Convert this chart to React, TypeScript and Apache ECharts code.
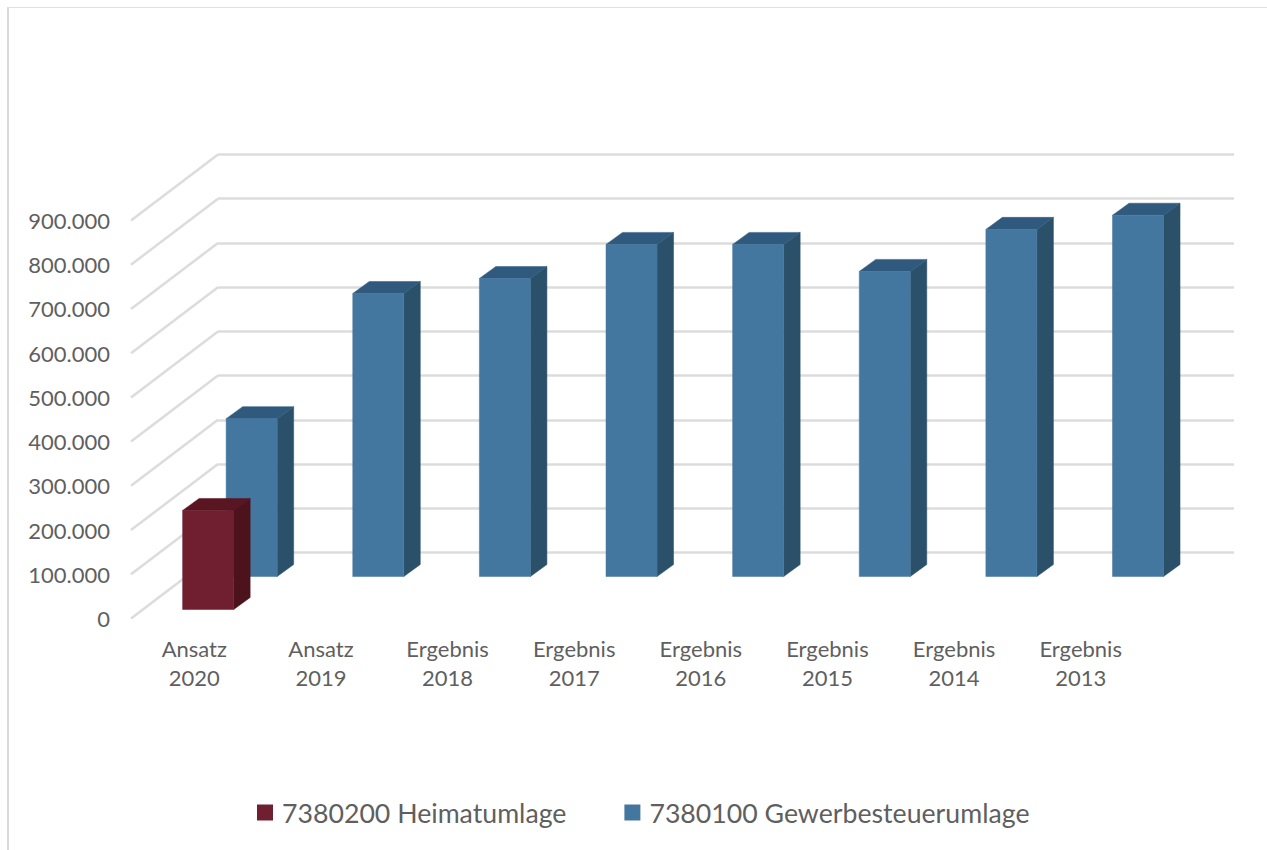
import React, { useEffect, useRef } from "react";
import * as echarts from "echarts";

const categories = ["Ansatz\n2020", "Ansatz\n2019", "Ergebnis\n2018", "Ergebnis\n2017", "Ergebnis\n2016", "Ergebnis\n2015", "Ergebnis\n2014", "Ergebnis\n2013"];
const heimatumlage = [224000, null, null, null, null, null, null, null];
const gewerbesteuerumlage = [357000, 640000, 674000, 751000, 751000, 690000, 785000, 817000];
const tickValues = [0, 100000, 200000, 300000, 400000, 500000, 600000, 700000, 800000, 900000];

const FONT = "Lato, Carlito, sans-serif";
const TEXT = "#5f5f5f";
const DEPTH_X = 87;
const DEPTH_Y = -66;
const GRID = "#dcdcdc";
const BAR_SHIFT_X = 2;
const BAR_DEPTH_X = 16.5;

function formatTick(v: number) {
  return String(v).replace(/\B(?=(\d{3})+$)/g, ".");
}

function bar3d(front: string, top: string, side: string, d0: number, d1: number) {
  return (params: any, api: any) => {
    const cat = api.value(0);
    const val = api.value(1);
    const w = api.size([1, 0])[0] * 0.403;
    const baseC = api.coord([cat, 0]);
    const topC = api.coord([cat, val]);
    const x0 = baseC[0] + d0 * DEPTH_X + BAR_SHIFT_X - w / 2;
    const x1 = x0 + w;
    const yb = baseC[1] + d0 * DEPTH_Y;
    const yt = topC[1] + d0 * DEPTH_Y;
    const dx = BAR_DEPTH_X;
    const dy = (d1 - d0) * DEPTH_Y;
    const poly = (points: number[][], fill: string) => ({
      type: "polygon",
      shape: { points },
      style: { fill, stroke: fill, lineWidth: 0.5 },
    });
    return {
      type: "group",
      children: [
        poly([[x1, yb], [x1 + dx, yb + dy], [x1 + dx, yt + dy], [x1, yt]], side),
        poly([[x0, yt], [x1, yt], [x1 + dx, yt + dy], [x0 + dx, yt + dy]], top),
        poly([[x0, yb], [x1, yb], [x1, yt], [x0, yt]], front),
      ],
    };
  };
}

export default function App() {
  const ref = useRef<HTMLDivElement>(null);
  useEffect(() => {
    document.body.style.margin = "0";
    const chart = echarts.init(ref.current!, null, { renderer: "svg" });
    const frontGrid = { left: 131, top: 220.5, width: 1013, height: 398 };
    chart.setOption({
      animation: false,
      backgroundColor: "#ffffff",
      textStyle: { fontFamily: FONT },
      graphic: [
        { type: "line", shape: { x1: 8, y1: 7, x2: 8, y2: 850 }, style: { stroke: "#d9d9d9", lineWidth: 2 }, silent: true },
        { type: "line", shape: { x1: 7, y1: 7.5, x2: 1267, y2: 7.5 }, style: { stroke: "#e0e0e0", lineWidth: 1 }, silent: true },
      ],
      grid: [
        frontGrid,
        { left: 218, top: 154.5, width: 1016, height: 398 },
      ],
      xAxis: [
        {
          type: "category", gridIndex: 0, data: categories,
          axisLine: { show: false }, axisTick: { show: false },
          axisLabel: { color: TEXT, fontSize: 22, fontFamily: FONT, lineHeight: 29, margin: 15, interval: 0 },
        },
        { type: "category", gridIndex: 1, data: categories, show: false },
      ],
      yAxis: [
        {
          type: "value", gridIndex: 0, min: 0, max: 900000, interval: 100000,
          axisLine: { show: false }, axisTick: { show: false }, splitLine: { show: false },
          axisLabel: { color: TEXT, fontSize: 22, fontFamily: FONT, margin: 21, formatter: formatTick },
        },
        {
          type: "value", gridIndex: 1, min: 0, max: 900000, interval: 100000,
          axisLine: { show: false }, axisTick: { show: false }, axisLabel: { show: false },
          splitLine: { show: true, lineStyle: { color: GRID, width: 2.5 } },
        },
      ],
      legend: {
        left: 252, top: 794, itemWidth: 16, itemHeight: 16, itemGap: 58,
        icon: "rect",
        data: ["7380200 Heimatumlage", "7380100 Gewerbesteuerumlage"],
        textStyle: { color: TEXT, fontSize: 26.7, fontFamily: FONT, padding: [0, 0, 0, 4] },
      },
      series: [
        {
          type: "custom", name: "walls", xAxisIndex: 0, yAxisIndex: 0, silent: true, z: 1,
          data: tickValues.map((v) => [0, v]),
          renderItem: (_p: any, api: any) => {
            const c = api.coord([0, api.value(1)]);
            const x = c[0] - api.size([1, 0])[0] / 2;
            return {
              type: "line",
              shape: { x1: x, y1: c[1], x2: x + DEPTH_X, y2: c[1] + DEPTH_Y },
              style: { stroke: GRID, lineWidth: 2.5 },
            };
          },
        },
        {
          type: "custom", name: "7380100 Gewerbesteuerumlage", xAxisIndex: 0, yAxisIndex: 0, z: 3,
          itemStyle: { color: "#44779f" },
          data: gewerbesteuerumlage.map((v, i) => [i, v]),
          encode: { x: 0, y: 1 },
          renderItem: bar3d("#44779f", "#2f5a7e", "#2b5069", 0.636, 0.818),
        },
        {
          type: "custom", name: "7380200 Heimatumlage", xAxisIndex: 0, yAxisIndex: 0, z: 4,
          itemStyle: { color: "#6f1f30" },
          data: heimatumlage.map((v, i) => [i, v]).filter((d) => d[1] !== null),
          encode: { x: 0, y: 1 },
          renderItem: bar3d("#6f1f30", "#591522", "#4d131d", 0.136, 0.318),
        },
      ],
    });
    return () => chart.dispose();
  }, []);
  return <div ref={ref} style={{ position: "fixed", left: 0, top: 0, width: 1267, height: 850 }} />;
}
